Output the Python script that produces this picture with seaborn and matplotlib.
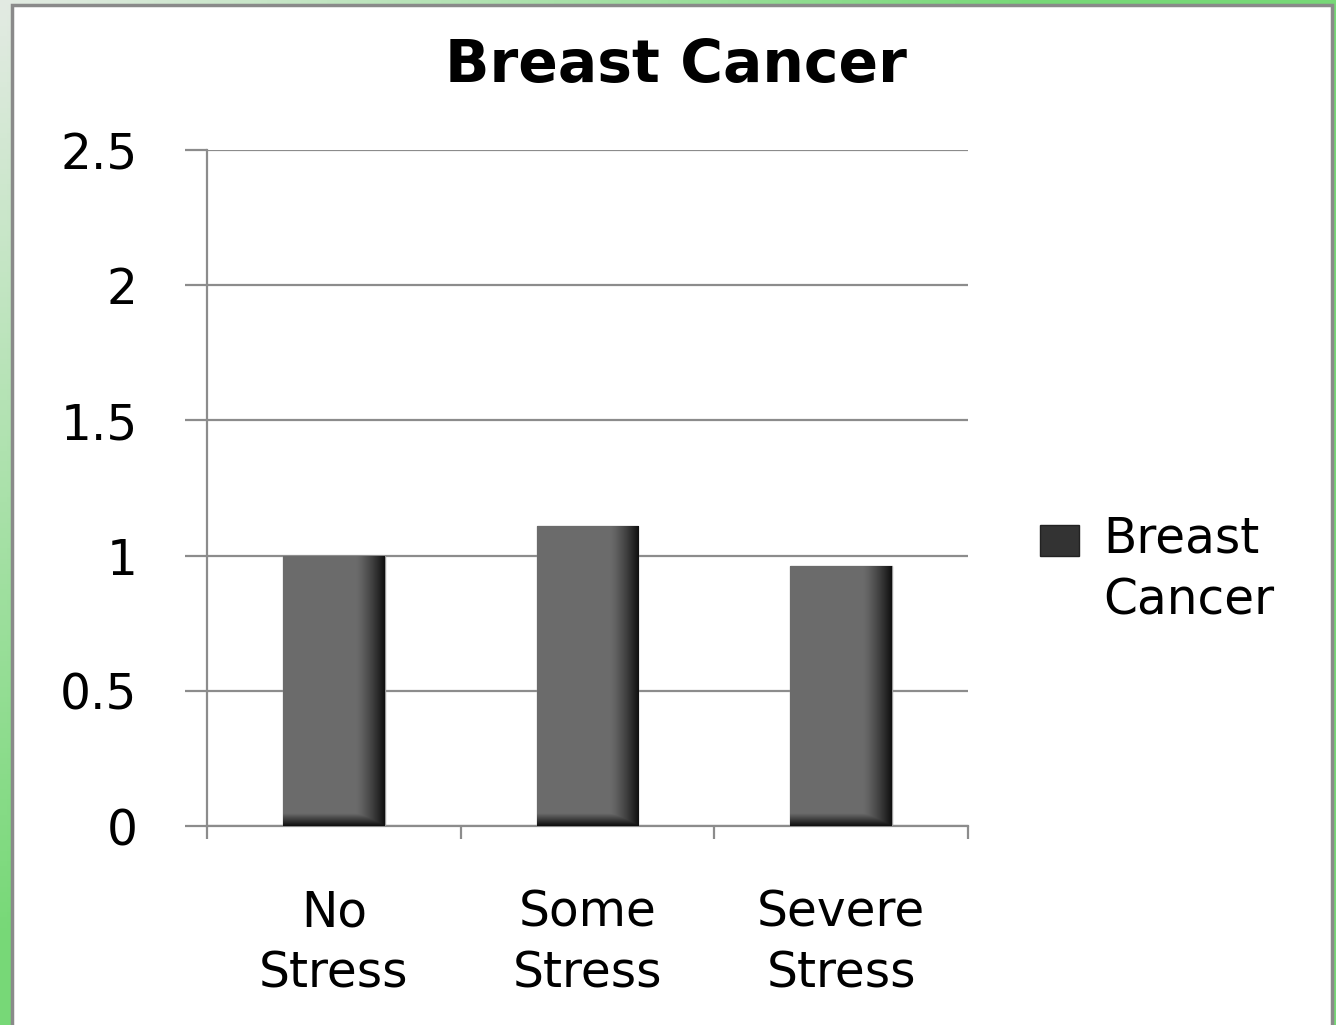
import numpy as np
import pandas as pd
import seaborn as sns
import matplotlib.pyplot as plt
from matplotlib.patches import Rectangle

# Data
categories = ['No\nStress', 'Some\nStress', 'Severe\nStress']
values = [1.0, 1.11, 0.96]
series_name = 'Breast Cancer'
y_ticks = [0, 0.5, 1, 1.5, 2, 2.5]
y_tick_labels = ['0', '0.5', '1', '1.5', '2', '2.5']

df = pd.DataFrame({'Stress': categories, 'Value': values, 'Series': series_name})

sns.set_theme(style='white')
plt.rcParams['font.family'] = ['DejaVu Sans']

fig = plt.figure(figsize=(13.36, 10.25), dpi=100)

# green gradient frame behind a white panel
bg = fig.add_axes([0, 0, 1, 1], zorder=-10)
gx, gy = np.meshgrid(np.linspace(0, 1, 200), np.linspace(0, 1, 200))
t = np.clip(gx * 1.3 + gy * 1.1, 0, 1)
c0 = np.array([0.89, 0.92, 0.89])
c1 = np.array([0.47, 0.85, 0.47])
grad = c0 * (1 - t[..., None]) + c1 * t[..., None]
bg.imshow(grad, extent=[0, 1, 0, 1], aspect='auto', origin='upper')
bg.add_patch(Rectangle((12 / 1336, -0.01), (1332 - 12) / 1336, 1 - 5 / 1025 + 0.01,
                       facecolor='white', edgecolor='#8a8a8a', linewidth=2.5))
bg.set_xlim(0, 1)
bg.set_ylim(0, 1)
bg.axis('off')

ax = fig.add_axes([207 / 1336, 1 - 826 / 1025, (968 - 207) / 1336, (826 - 150) / 1025])
ax.patch.set_alpha(0)

sns.barplot(data=df, x='Stress', y='Value', hue='Series', palette=['#6b6b6b'],
            width=0.4, gap=0, ax=ax, edgecolor='#9a9a9a', linewidth=1, zorder=3)

# shaded look on the bars (dark right edge and bottom)
for bar in ax.patches:
    x0, w, h = bar.get_x(), bar.get_width(), bar.get_height()
    if h <= 0:
        continue
    u = np.linspace(0, 1, 120)[None, :]
    yy = np.linspace(h, 0, 300)[:, None]
    hf = 1 - np.clip((u - 0.72) / 0.28, 0, 1) ** 1.3 * 0.85
    vf = 0.15 + 0.85 * np.clip(yy / 0.045, 0, 1)
    val = 0.42 * np.minimum(hf, vf)
    img = np.dstack([val, val, val])
    im = ax.imshow(img, extent=[x0, x0 + w, 0, h], aspect='auto', zorder=4,
                   interpolation='bilinear')
    im.set_clip_path(bar)

ax.set_xlim(-0.5, 2.5)
ax.set_ylim(0, 2.5)
ax.set_yticks(y_ticks)
ax.set_yticklabels(y_tick_labels)
ax.set_xlabel('')
ax.set_ylabel('')

grid_c = '#8c8c8c'
ax.yaxis.grid(True, color=grid_c, linewidth=1.6, zorder=0)
ax.set_axisbelow(True)
for s in ['top', 'right']:
    ax.spines[s].set_visible(False)
for s in ['left', 'bottom']:
    ax.spines[s].set_color(grid_c)
    ax.spines[s].set_linewidth(1.6)

ax.tick_params(axis='y', length=16, width=1.6, color=grid_c, direction='out',
               pad=34, labelsize=35, labelcolor='black', left=True)
ax.set_xticks([-0.5, 0.5, 1.5, 2.5], minor=True)
ax.tick_params(axis='x', which='minor', length=9, width=1.6, color=grid_c,
               direction='out', bottom=True)
ax.tick_params(axis='x', which='major', length=0, pad=45, labelsize=35,
               labelcolor='black')
for lab in ax.get_xticklabels():
    lab.set_linespacing(1.35)

# legend
handles, _ = ax.get_legend_handles_labels()
for hd in handles:
    hd.set_facecolor('#333333')
    hd.set_edgecolor('#222222')
leg = ax.legend(handles, ['Breast\nCancer'], loc='upper left',
                bbox_to_anchor=(996 / 1336, 1 - 471 / 1025),
                bbox_transform=fig.transFigure, frameon=False, fontsize=35,
                handlelength=0.8, handleheight=0.6, handletextpad=0.5,
                labelcolor='black')
for txt in leg.get_texts():
    txt.set_linespacing(1.35)
# put the legend square beside the first line of the label
for lh in leg.legend_handles:
    lh.set_y(lh.get_y() + 22)

fig.text(676 / 1336, 1 - 65 / 1025, 'Breast Cancer', ha='center', va='center',
         fontsize=42, fontweight='bold', color='black')

fig.savefig('out.png', dpi=100)
